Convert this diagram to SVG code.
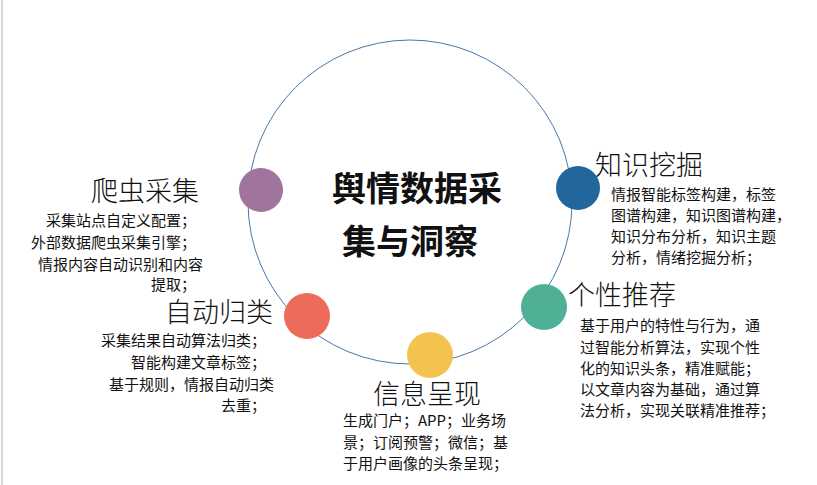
<svg xmlns="http://www.w3.org/2000/svg" width="817" height="485" viewBox="0 0 817 485">
<style>
text{font-family:"Noto Sans CJK SC","Noto Sans",sans-serif;fill:#111}
.h{font-size:27px;font-weight:300}
.b{font-size:15px}
.t{font-size:34px;font-weight:bold}
.r{text-anchor:end}
</style>
<rect width="817" height="485" fill="#fff"/>
<line x1="2" y1="0" x2="2" y2="485" stroke="#c8c8c8" stroke-width="1.5"/>
<g id="connectors"><circle cx="410" cy="202" r="162" fill="none" stroke="#4a78a8" stroke-width="1"/></g>
<g id="title"><text class="t" x="417" y="201" text-anchor="middle">舆情数据采</text><text class="t" x="410" y="254" text-anchor="middle">集与洞察</text></g>
<g id="n1"><circle cx="261" cy="190" r="22" fill="#a0749c"/>
<text class="h r" x="199" y="201">爬虫采集</text>
<text class="b r" x="196" y="226">采集站点自定义配置；</text>
<text class="b r" x="196" y="248">外部数据爬虫采集引擎；</text>
<text class="b r" x="203" y="270">情报内容自动识别和内容</text>
<text class="b r" x="196" y="290">提取；</text></g>
<g id="n2"><circle cx="307" cy="316" r="23" fill="#ec6b5a"/>
<text class="h r" x="273" y="322">自动归类</text>
<text class="b r" x="266" y="346">采集结果自动算法归类；</text>
<text class="b r" x="266" y="368">智能构建文章标签；</text>
<text class="b r" x="274" y="390">基于规则，情报自动归类</text>
<text class="b r" x="266" y="411">去重；</text></g>
<g id="n3"><circle cx="430" cy="355" r="23" fill="#f4c24f"/>
<text class="h" x="373" y="404">信息呈现</text>
<text class="b" x="343" y="426">生成门户；APP；业务场</text>
<text class="b" x="343" y="448">景；订阅预警；微信；基</text>
<text class="b" x="343" y="469">于用户画像的头条呈现；</text></g>
<g id="n4"><circle cx="544" cy="307" r="23" fill="#4fb095"/>
<text class="h" x="568" y="305">个性推荐</text>
<text class="b" x="580" y="331">基于用户的特性与行为，通</text>
<text class="b" x="580" y="353">过智能分析算法，实现个性</text>
<text class="b" x="580" y="374">化的知识头条，精准赋能；</text>
<text class="b" x="580" y="395">以文章内容为基础，通过算</text>
<text class="b" x="580" y="416">法分析，实现关联精准推荐；</text></g>
<g id="n5"><circle cx="578" cy="188" r="22" fill="#22669e"/>
<text class="h" x="595" y="175">知识挖掘</text>
<text class="b" x="611" y="200">情报智能标签构建，标签</text>
<text class="b" x="611" y="221">图谱构建，知识图谱构建，</text>
<text class="b" x="611" y="242">知识分布分析，知识主题</text>
<text class="b" x="611" y="263">分析，情绪挖掘分析；</text></g>
</svg>
